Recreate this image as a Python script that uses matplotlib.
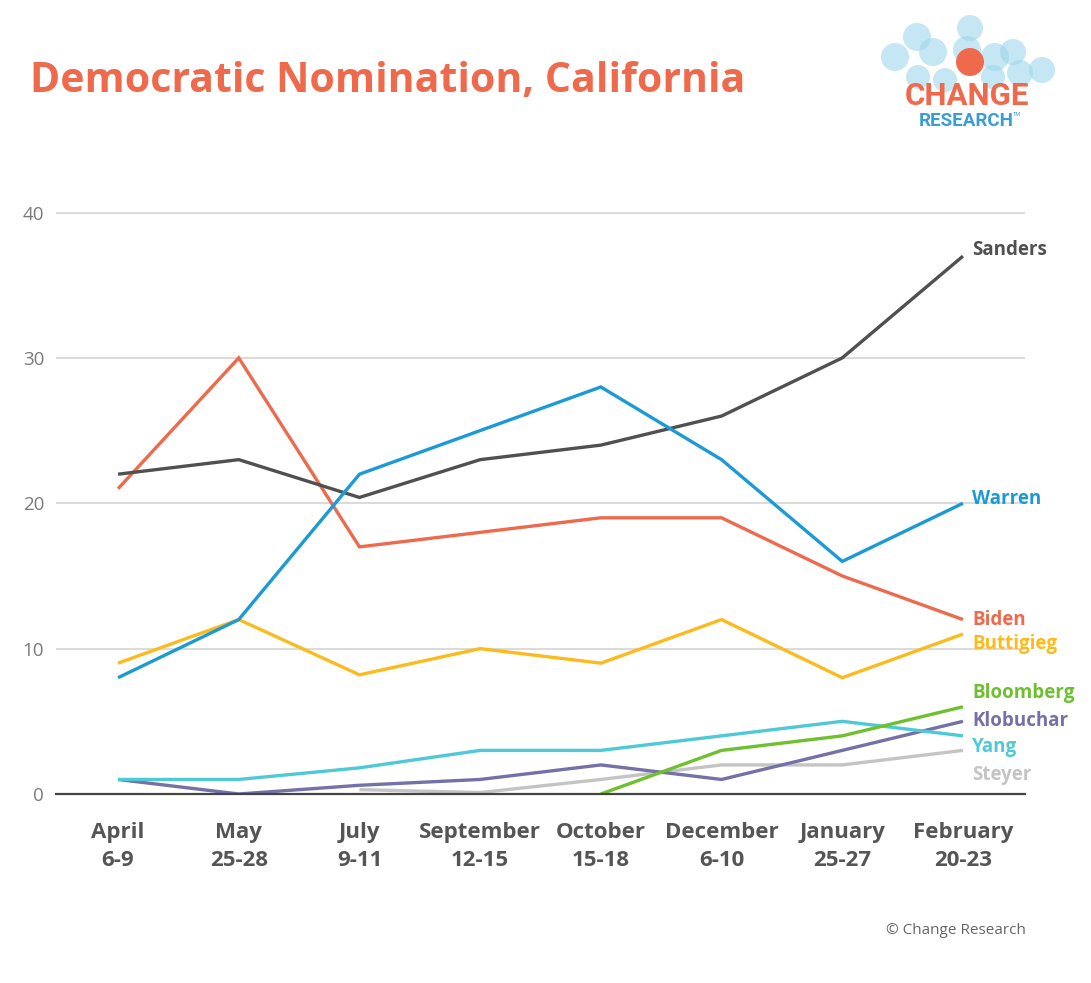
import matplotlib
matplotlib.use("Agg")
import matplotlib.pyplot as plt
import numpy as np
from matplotlib.patches import Circle

# ---------------- data ----------------
polls = ["April\n6-9", "May\n25-28", "July\n9-11", "September\n12-15",
         "October\n15-18", "December\n6-10", "January\n25-27", "February\n20-23"]
nan = np.nan
sanders = [22, 23, 20.4, 23, 24, 26, 30, 37]
warren = [8, 12, 22, 25, 28, 23, 16, 20]
biden = [21, 30, 17, 18, 19, 19, 15, 12]
buttigieg = [9, 12, 8.2, 10, 9, 12, 8, 11]
bloomberg = [nan, nan, nan, nan, 0, 3, 4, 6]
klobuchar = [1, 0, 0.6, 1, 2, 1, 3, 5]
yang = [1, 1, 1.8, 3, 3, 4, 5, 4]
steyer = [nan, nan, 0.3, 0.1, 1, 2, 2, 3]
yticks = [0, 10, 20, 30, 40]

series = [
    ("Steyer", steyer, "#c4c4c4"),
    ("Klobuchar", klobuchar, "#7470a8"),
    ("Yang", yang, "#4fc9d6"),
    ("Bloomberg", bloomberg, "#6fc02e"),
    ("Buttigieg", buttigieg, "#fbbb1e"),
    ("Biden", biden, "#ee6a4d"),
    ("Sanders", sanders, "#505050"),
    ("Warren", warren, "#1b9ad6"),
]
# label vertical placement (layout, in data units)
label_y = {"Sanders": 37.4, "Warren": 20.3, "Biden": 12.0, "Buttigieg": 10.3,
           "Bloomberg": 6.95, "Klobuchar": 5.05, "Yang": 3.2, "Steyer": 1.3}

FONT = "Open Sans"
W, H = 1091, 983
fig = plt.figure(figsize=(W / 100, H / 100), dpi=100)
fig.patch.set_facecolor("white")

ax = fig.add_axes([56 / W, 1 - 794 / H, (1025 - 56) / W, (794 - 198) / H])
ax.set_facecolor("none")
x = np.arange(len(polls))
for name, vals, col in series:
    ax.plot(x, vals, color=col, lw=2.4, solid_capstyle="butt", solid_joinstyle="miter", zorder=3)
    ax.annotate(name, xy=(x[-1], label_y[name]), xytext=(6.5, 0), textcoords="offset points",
                va="center", ha="left", color=col, fontsize=13.5, fontweight="bold",
                family=FONT, annotation_clip=False)

ax.set_xlim(-0.514, 7.514)
ax.set_ylim(0, 41)
for sp in ["top", "right", "left"]:
    ax.spines[sp].set_visible(False)
ax.spines["bottom"].set_color("#444444")
ax.spines["bottom"].set_linewidth(1.6)
ax.spines["bottom"].set_zorder(4)
ax.set_yticks(yticks)
ax.set_yticklabels([str(v) for v in yticks], family=FONT, fontsize=13.5, color="#7a7a7a")
ax.tick_params(axis="y", length=0, pad=8.5)
ax.set_xticks(x)
ax.set_xticklabels(polls, family=FONT, fontsize=16, fontweight="bold", color="#555555",
                   linespacing=1.45)
ax.tick_params(axis="x", length=0, pad=20)
for t in yticks[1:]:
    ax.axhline(t, color="#d4d4d4", lw=1.2, zorder=1)

# ---------------- overlay (title, logo, credit) in pixel coords ----------------
ov = fig.add_axes([0, 0, 1, 1], zorder=-1)
ov.set_xlim(0, W)
ov.set_ylim(H, 0)
ov.axis("off")

ov.text(30, 92, "Democratic Nomination, California", family=FONT, fontsize=29.5,
        fontweight="bold", color="#ef6a4c", va="baseline", ha="left")

circles = [(895, 57, 14), (917, 37, 14), (933, 52, 14), (970, 28, 13), (967, 50, 14),
           (995, 57, 14), (1013, 52, 13), (1042, 70, 13), (1020, 73, 13), (918, 77, 12),
           (993, 77, 12), (945, 80, 12)]
for cx, cy, r in circles:
    ov.add_patch(Circle((cx, cy), r, facecolor="#9fd6ec", edgecolor="none", alpha=0.6))
ov.add_patch(Circle((970, 62), 14, facecolor="#ef6a4c", edgecolor="none"))
ov.text(967, 105, "CHANGE", family="Roboto", fontsize=22.5, fontweight="bold",
        color="#ef6a4c", ha="center", va="baseline")
ov.text(966, 126, "RESEARCH", family="Roboto", fontsize=13.5, fontweight="bold",
        color="#3a9ed6", ha="center", va="baseline")
ov.text(1013, 116, "TM", family="Roboto", fontsize=4, color="#3a9ed6", ha="left", va="baseline")

ov.text(1026, 930, "\u00a9 Change Research", family=FONT, fontsize=11, color="#666666",
        ha="right", va="center")

fig.savefig("out.png", dpi=100, facecolor="white")
